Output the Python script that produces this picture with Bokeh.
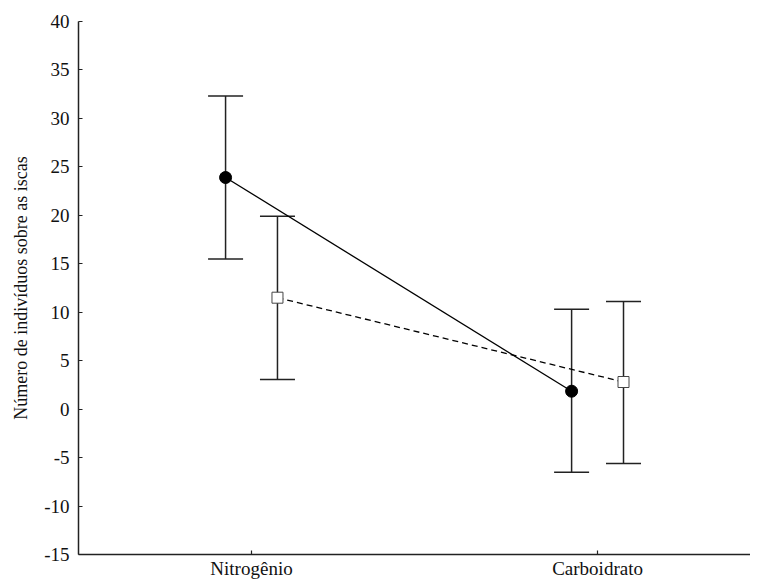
from bokeh.plotting import figure
from bokeh.models import Range1d, FixedTicker, ColumnDataSource, Whisker, TeeHead
from bokeh.embed import file_html
from bokeh.resources import INLINE

# ---- data ----
categories = ["Nitrogênio", "Carboidrato"]
cat_pos = [1, 2]
s1_mean = [23.9, 1.85]
s1_upper = [32.3, 10.3]
s1_lower = [15.5, -6.5]
s2_mean = [11.5, 2.8]
s2_upper = [19.9, 11.1]
s2_lower = [3.05, -5.6]
y_ticks = list(range(-15, 41, 5))
y_label = "Número de indivíduos sobre as iscas"

offset = 0.075
FONT = "Liberation Serif"
FS = "18px"

s1_x = [c - offset for c in cat_pos]
s2_x = [c + offset for c in cat_pos]

src1 = ColumnDataSource(dict(x=s1_x, y=s1_mean, up=s1_upper, lo=s1_lower))
src2 = ColumnDataSource(dict(x=s2_x, y=s2_mean, up=s2_upper, lo=s2_lower))

p = figure(width=750, height=582, output_backend="svg", toolbar_location=None,
           x_range=Range1d(0.5, 2.442), y_range=Range1d(-15, 40),
           min_border_left=78, min_border_right=0, min_border_top=21,
           min_border_bottom=28)
p.outline_line_color = None
p.grid.visible = False
p.background_fill_color = "white"
p.border_fill_color = "white"

for src in (src1, src2):
    w = Whisker(source=src, base="x", upper="up", lower="lo",
                line_color="#222222", line_width=1.5,
                upper_head=TeeHead(size=35, line_color="#222222", line_width=1.5),
                lower_head=TeeHead(size=35, line_color="#222222", line_width=1.5))
    p.add_layout(w)

p.line("x", "y", source=src1, line_color="black", line_width=1.3)
p.line("x", "y", source=src2, line_color="black", line_width=1.3, line_dash="6 4")
p.scatter("x", "y", source=src1, marker="circle", size=12,
          fill_color="black", line_color="black")
p.scatter("x", "y", source=src2, marker="square", size=11,
          fill_color="white", line_color="#444444", line_width=1)

# axes
p.yaxis.ticker = FixedTicker(ticks=y_ticks)
p.yaxis.major_label_overrides = {t: str(t) for t in y_ticks}
p.xaxis.ticker = FixedTicker(ticks=cat_pos)
p.xaxis.major_label_overrides = {c: n for c, n in zip(cat_pos, categories)}
p.yaxis.axis_label = y_label
for ax in (p.xaxis, p.yaxis):
    ax.axis_line_color = "#222222"
    ax.axis_line_width = 1.5
    ax.major_tick_line_color = "#222222"
    ax.major_tick_line_width = 1.2
    ax.major_tick_in = 4
    ax.major_tick_out = 0
    ax.minor_tick_line_color = None
    ax.major_label_text_font = FONT
    ax.major_label_text_font_size = "19px"
    ax.major_label_text_color = "#111111"
    ax.axis_label_text_font = FONT
    ax.axis_label_text_font_size = FS
    ax.axis_label_text_font_style = "normal"
    ax.axis_label_text_color = "#111111"
p.yaxis.major_label_standoff = 9
p.yaxis.axis_label_standoff = 10
p.xaxis.major_label_standoff = 3

open("out.html", "w").write(file_html(p, INLINE))
